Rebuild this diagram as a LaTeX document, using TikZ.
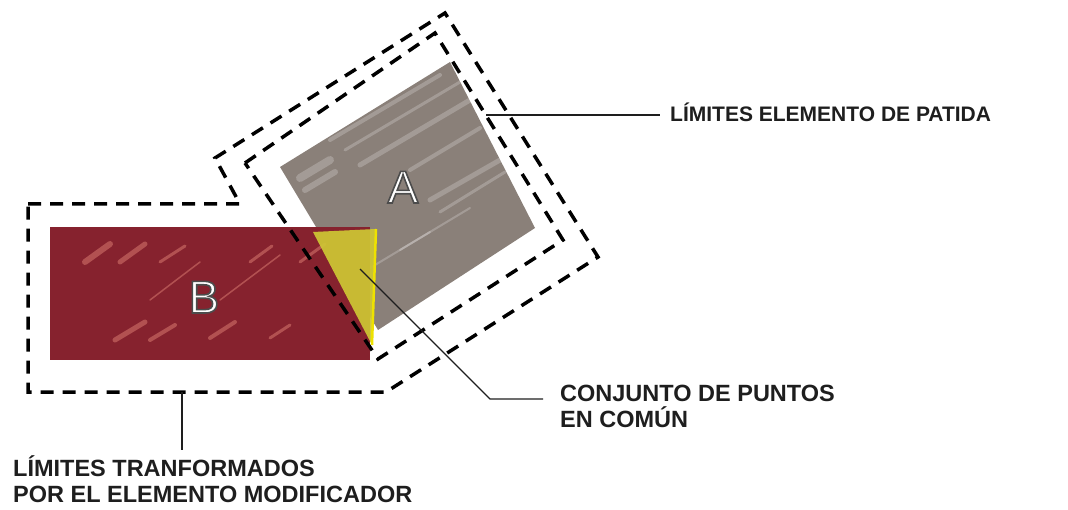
\documentclass[tikz,border=0pt]{standalone}
\usepackage{fontspec}
\setmainfont{Liberation Sans}

\definecolor{greyA}{RGB}{138,128,121}
\definecolor{redB}{RGB}{134,34,46}
\definecolor{pinkB}{RGB}{222,128,116}
\definecolor{yellowC}{RGB}{206,198,52}
\definecolor{inkline}{RGB}{30,30,30}

% white letter with a dark rim
\newcommand{\rimmed}[1]{\special{pdf:code 0.3 0.3 0.3 RG 1.6 w 2 Tr}#1\special{pdf:code 0 Tr}}

\tikzset{
  bound/.style={line width=3.5pt, dash pattern=on 13pt off 9pt, black},
  leader/.style={line width=1.4pt, inkline},
  tag/.style={font=\bfseries\fontsize{23.5}{26}\selectfont, text=inkline, align=left, inner sep=0pt},
  letter/.style={font=\fontsize{46}{46}\selectfont, text=white, inner sep=0pt, anchor=base},
  streak/.style={line width=#1, white, opacity=0.22, line cap=round},
  hatch/.style={line width=#1, pinkB, opacity=0.5, line cap=round},
}

\begin{document}
\begin{tikzpicture}[x=1pt, y=-1pt]
  \useasboundingbox (0,0) rectangle (1068,510);

  % element A
  \fill[greyA] (280,167) -- (450,62) -- (535,228) -- (378,330) -- cycle;
  \begin{scope}
    \clip (280,167) -- (450,62) -- (535,228) -- (378,330) -- cycle;
    \foreach \xa/\ya/\xb/\yb/\w in {300/178/330/160/8, 305/190/335/172/6,
        330/140/440/75/4, 345/150/460/82/3, 360/165/470/100/5,
        410/170/480/128/4, 430/200/500/160/5, 440/212/505/172/3,
        400/250/470/208/2, 350/280/430/232/2}
      \draw[streak=\w] (\xa,\ya) -- (\xb,\yb);
  \end{scope}

  % element B
  \fill[redB] (50,227) rectangle (370,360);
  \begin{scope}
    \clip (58,233) rectangle (362,352);
    \foreach \xa/\ya/\xb/\yb/\w in {85/262/110/244/6, 120/262/145/244/5,
        160/262/185/246/3, 250/262/272/246/3, 300/262/325/244/3,
        115/340/145/322/5, 150/340/175/325/4, 210/338/235/322/4,
        270/338/290/325/3, 220/300/280/255/1.5, 150/300/200/262/1.5}
      \draw[hatch=\w] (\xa,\ya) -- (\xb,\yb);
  \end{scope}

  % common points
  \fill[yellowC, opacity=0.93] (313,232) -- (376,229) -- (372,345) -- cycle;
  \draw[yellow!85!olive, line width=2.5pt] (376,229) -- (372,345);

  % limits
  \draw[bound] (28,204) -- (240,204) -- (215,158) -- (445,13) -- (598,257)
    -- (386,392) -- (28,392) -- cycle;
  \draw[bound] (245,163) -- (435,33) -- (563,240) -- (378,359) -- cycle;

  % letters
  \node[letter] (letA) at (403,203) {\rimmed{A}};
  \node[letter] (letB) at (204,313) {\rimmed{B}};

  % labels
  \node[tag, font=\bfseries\fontsize{21}{24}\selectfont, inner xsep=10pt, anchor=base west]
    (labPart) at (660,122) {LÍMITES ELEMENTO DE PATIDA};
  \node[tag, anchor=north west] (labCom) at (560,385) {CONJUNTO DE PUNTOS\\EN COMÚN};
  \node[tag, anchor=north west] (labMod) at (13,455) {LÍMITES TRANFORMADOS\\POR EL ELEMENTO MODIFICADOR};

  \coordinate (pPart) at (486,115);
  \coordinate (pCom) at (360,269);
  \coordinate (kCom) at (490,399);
  \coordinate (pMod) at (182,392);

  \draw[leader] (pPart) -- (pPart -| labPart.west);
  \draw[leader] (pCom) -- (kCom) -- ([xshift=-17pt]kCom -| labCom.west);
  \draw[leader] (pMod) -- ([yshift=5pt]pMod |- labMod.north);
\end{tikzpicture}
\end{document}
